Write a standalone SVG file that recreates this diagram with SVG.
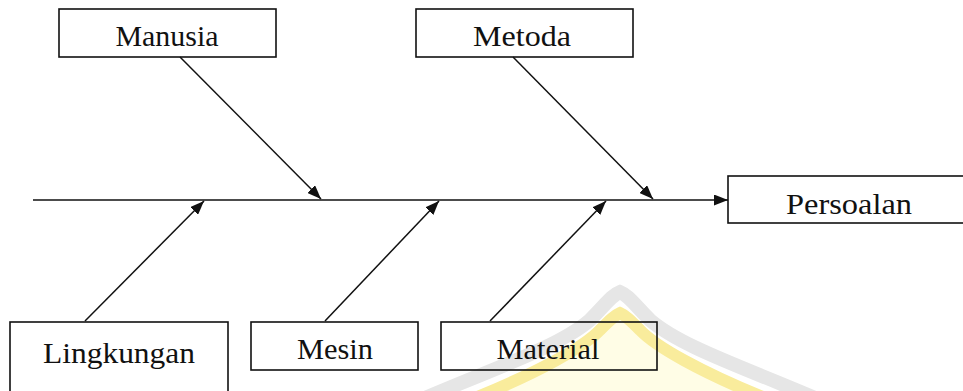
<svg xmlns="http://www.w3.org/2000/svg" width="963" height="391" viewBox="0 0 963 391">
  <style>
    .box { fill: none; stroke: #111; stroke-width: 1.6; }
    .lbl { font-family: "Liberation Serif", "Times New Roman", serif; font-size: 30px; fill: #111; text-anchor: middle; }
    .bone { stroke: #111; stroke-width: 1.5; fill: none; marker-end: url(#head); }
  </style>
  <defs>
    <marker id="head" markerUnits="userSpaceOnUse" markerWidth="15" markerHeight="11" refX="14" refY="5.5" orient="auto">
      <path d="M0,0 L14,5.5 L0,11 Z" fill="#111"/>
    </marker>
  </defs>

  <rect width="963" height="391" fill="#fff"/>

  <!-- faint dome emblem in the background -->
  <g id="emblem">
    <path d="M425 398 C500 366 560 346 590 320 C605 305 612 295 620 292 C628 295 635 305 650 320 C680 346 740 366 815 398" fill="none" stroke="#e6e6e6" stroke-width="14"/>
    <path d="M470 400 C540 372 585 346 600 330 C610 320 615 315 620 313 C625 315 630 320 640 330 C655 346 700 372 770 400 Z" fill="#fffde6" stroke="#f9ec9c" stroke-width="12"/>
  </g>

  <!-- connectors -->
  <g id="connectors">
    <line class="bone" x1="33" y1="200" x2="728" y2="200"/>
    <line class="bone" x1="180" y1="57" x2="321" y2="199"/>
    <line class="bone" x1="513" y1="57" x2="653" y2="199"/>
    <line class="bone" x1="85" y1="321" x2="204" y2="201"/>
    <line class="bone" x1="325" y1="321" x2="439" y2="201"/>
    <line class="bone" x1="490" y1="321" x2="606" y2="201"/>
  </g>

  <g id="manusia">
    <rect class="box" x="59" y="9" width="217" height="48"/>
    <text class="lbl" x="167" y="46" textLength="103" lengthAdjust="spacingAndGlyphs">Manusia</text>
  </g>
  <g id="metoda">
    <rect class="box" x="416" y="9" width="217" height="48"/>
    <text class="lbl" x="522" y="46" textLength="98" lengthAdjust="spacingAndGlyphs">Metoda</text>
  </g>
  <g id="persoalan">
    <rect class="box" x="728" y="176" width="250" height="47"/>
    <text class="lbl" x="849" y="214" textLength="126" lengthAdjust="spacingAndGlyphs">Persoalan</text>
  </g>
  <g id="lingkungan">
    <rect class="box" x="10" y="322" width="218" height="80"/>
    <text class="lbl" x="119" y="363" textLength="152" lengthAdjust="spacingAndGlyphs">Lingkungan</text>
  </g>
  <g id="mesin">
    <rect class="box" x="251" y="322" width="167" height="48"/>
    <text class="lbl" x="335" y="359" textLength="76" lengthAdjust="spacingAndGlyphs">Mesin</text>
  </g>
  <g id="material">
    <rect class="box" x="441" y="322" width="216" height="48"/>
    <text class="lbl" x="548" y="359" textLength="103" lengthAdjust="spacingAndGlyphs">Material</text>
  </g>
</svg>
